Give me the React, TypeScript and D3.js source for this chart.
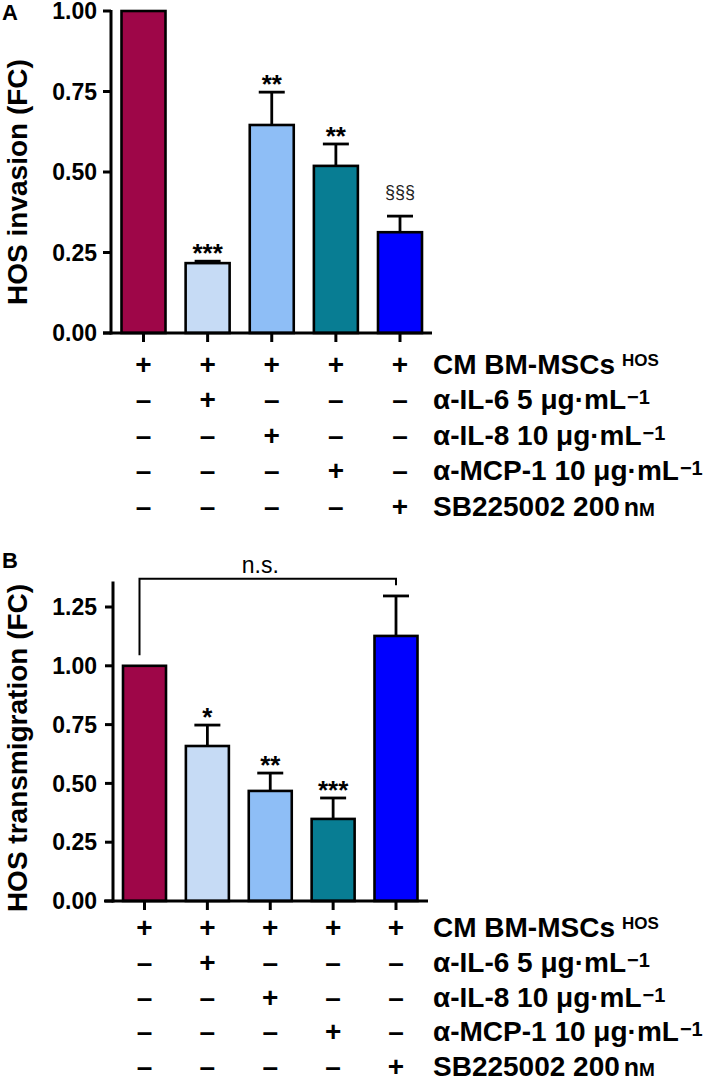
import React, { useEffect } from "react";
import * as d3 from "d3";

// ---- data ----
const groups = ["CM", "α-IL-6", "α-IL-8", "α-MCP-1", "SB225002"];
const barColors = ["#9E0648", "#C6DBF5", "#8EBEF6", "#087D93", "#0000FF"];

const invasionMeans = [1.0, 0.217, 0.646, 0.519, 0.313];
const invasionErrors = [0, 0.006, 0.102, 0.068, 0.05];
const invasionMarks = ["", "***", "**", "**", "§§§"];
const invasionTicks = [0, 0.25, 0.5, 0.75, 1.0];

const transMeans = [1.0, 0.659, 0.468, 0.349, 1.127];
const transErrors = [0, 0.089, 0.076, 0.089, 0.17];
const transMarks = ["", "*", "**", "***", ""];
const transTicks = [0, 0.25, 0.5, 0.75, 1.0, 1.25];

const rowLabelMain = ["CM BM-MSCs", "α-IL-6 5 μg·mL", "α-IL-8 10 μg·mL", "α-MCP-1 10 μg·mL", "SB225002 200"];
const rowLabelSup = ["HOS", "−1", "−1", "−1", "nM"];
const treatmentMatrix = [
  [1, 1, 1, 1, 1],
  [0, 1, 0, 0, 0],
  [0, 0, 1, 0, 0],
  [0, 0, 0, 1, 0],
  [0, 0, 0, 0, 1],
];
const nsBracket = { from: 0, to: 4, level: 1.37, leftDrop: 1.045, rightDrop: 1.343, text: "n.s." };

const FONT = "'Liberation Sans', Arial, Helvetica, sans-serif";

type PanelProps = {
  letter: string;
  letterY: number;
  yLabel: string;
  yLabelCenter: number;
  means: number[];
  errors: number[];
  marks: string[];
  ticks: number[];
  yDomain: [number, number];
  yRange: [number, number];
  axisTopValue: number;
  axisX: number;
  xAxisStart: number;
  xAxisEnd: number;
  centerRange: [number, number];
  barWidth: number;
  rowBaseline: number;
  rowStep: number;
  bracket?: typeof nsBracket;
};

function Panel(p: PanelProps) {
  const y = d3.scaleLinear().domain(p.yDomain).range(p.yRange);
  const x = d3.scalePoint<string>().domain(groups).range(p.centerRange).padding(0);
  const y0 = y(0);
  const labelX = 433;
  return (
    <g fontFamily={FONT}>
      <text x={2} y={p.letterY} fontSize={22} fontWeight="bold">{p.letter}</text>
      <text
        transform={`translate(27,${p.yLabelCenter}) rotate(-90)`}
        textAnchor="middle"
        fontSize={28}
        fontWeight="bold"
      >
        {p.yLabel}
      </text>
      {/* bars */}
      {groups.map((g, i) => {
        const cx = x(g)!;
        const top = y(p.means[i]);
        return (
          <g key={g}>
            <rect
              x={cx - p.barWidth / 2}
              y={top}
              width={p.barWidth}
              height={y0 - top}
              fill={barColors[i]}
              stroke="#000"
              strokeWidth={2.6}
            />
            {p.errors[i] > 0 && (
              <g stroke="#000" strokeWidth={2.8}>
                <line x1={cx} x2={cx} y1={top} y2={y(p.means[i] + p.errors[i])} />
                <line x1={cx - 13} x2={cx + 13} y1={y(p.means[i] + p.errors[i])} y2={y(p.means[i] + p.errors[i])} />
              </g>
            )}
            {p.marks[i] &&
              (p.marks[i].startsWith("§") ? (
                <text x={cx} y={y(p.means[i] + p.errors[i]) - 18} textAnchor="middle" fontSize={18} fill="#222">
                  {p.marks[i]}
                </text>
              ) : (
                <text x={cx} y={y(p.means[i] + p.errors[i]) + 1} textAnchor="middle" fontSize={26} fontWeight="bold">
                  {p.marks[i]}
                </text>
              ))}
          </g>
        );
      })}
      {/* y axis */}
      <line x1={p.axisX} x2={p.axisX} y1={y(p.axisTopValue) - 1} y2={y0 + 1.5} stroke="#000" strokeWidth={3} />
      {p.ticks.map((t) => (
        <g key={t}>
          <line x1={p.axisX - 8} x2={p.axisX} y1={y(t)} y2={y(t)} stroke="#000" strokeWidth={3} />
          <text x={97} y={y(t)} dy="0.36em" textAnchor="end" fontSize={23} fontWeight="bold">
            {d3.format(".2f")(t)}
          </text>
        </g>
      ))}
      {/* x axis */}
      <line x1={p.xAxisStart} x2={p.xAxisEnd} y1={y0} y2={y0} stroke="#000" strokeWidth={3} />
      {groups.map((g) => (
        <line key={g} x1={x(g)!} x2={x(g)!} y1={y0} y2={y0 + 9} stroke="#000" strokeWidth={3} />
      ))}
      {/* bracket */}
      {p.bracket && (
        <g>
          <path
            d={`M${x(groups[p.bracket.from])! - 5},${y(p.bracket.leftDrop)}V${y(p.bracket.level)}H${x(groups[p.bracket.to])!}V${y(p.bracket.rightDrop)}`}
            fill="none"
            stroke="#000"
            strokeWidth={2}
          />
          <text
            x={(x(groups[p.bracket.from])! + x(groups[p.bracket.to])!) / 2 - 10}
            y={y(p.bracket.level) - 6}
            textAnchor="middle"
            fontSize={23}
          >
            {p.bracket.text}
          </text>
        </g>
      )}
      {/* treatment table */}
      {treatmentMatrix.map((row, r) => {
        const by = p.rowBaseline + r * p.rowStep;
        return (
          <g key={r}>
            {row.map((v, c) => (
              <text key={c} x={x(groups[c])!} y={by} textAnchor="middle" fontSize={28} fontWeight="bold">
                {v ? "+" : "–"}
              </text>
            ))}
            <text x={labelX} y={by} fontSize={28} fontWeight="bold">
              {rowLabelMain[r]}
              {r === 0 && (
                <tspan fontSize={17} dx={7} dy={-8}>
                  {rowLabelSup[r]}
                </tspan>
              )}
              {r > 0 && r < 4 && (
                <tspan fontSize={20} dx={1} dy={-5}>
                  {rowLabelSup[r]}
                </tspan>
              )}
              {r === 4 && (
                <>
                  <tspan fontSize={25} dx={4}>{rowLabelSup[r][0]}</tspan>
                  <tspan fontSize={19}>{rowLabelSup[r][1]}</tspan>
                </>
              )}
            </text>
          </g>
        );
      })}
    </g>
  );
}

export default function App() {
  useEffect(() => {
    document.body.style.margin = "0";
  }, []);
  return (
    <svg
      width={709}
      height={1083}
      viewBox="0 0 709 1083"
      style={{ position: "absolute", left: 0, top: 0, background: "#fff" }}
    >
      <rect width={709} height={1083} fill="#fff" />
      <Panel
        letter="A"
        letterY={20}
        yLabel="HOS invasion (FC)"
        yLabelCenter={182}
        means={invasionMeans}
        errors={invasionErrors}
        marks={invasionMarks}
        ticks={invasionTicks}
        yDomain={[0, 1]}
        yRange={[333, 11]}
        axisTopValue={1.0}
        axisX={111}
        xAxisStart={103}
        xAxisEnd={432}
        centerRange={[143.5, 400]}
        barWidth={44}
        rowBaseline={374}
        rowStep={35.4}
      />
      <Panel
        letter="B"
        letterY={568}
        yLabel="HOS transmigration (FC)"
        yLabelCenter={748}
        means={transMeans}
        errors={transErrors}
        marks={transMarks}
        ticks={transTicks}
        yDomain={[0, 1.25]}
        yRange={[901, 607]}
        axisTopValue={1.354}
        axisX={113}
        xAxisStart={104}
        xAxisEnd={428}
        centerRange={[144.5, 396]}
        barWidth={43}
        rowBaseline={937}
        rowStep={34.8}
        bracket={nsBracket}
      />
    </svg>
  );
}
